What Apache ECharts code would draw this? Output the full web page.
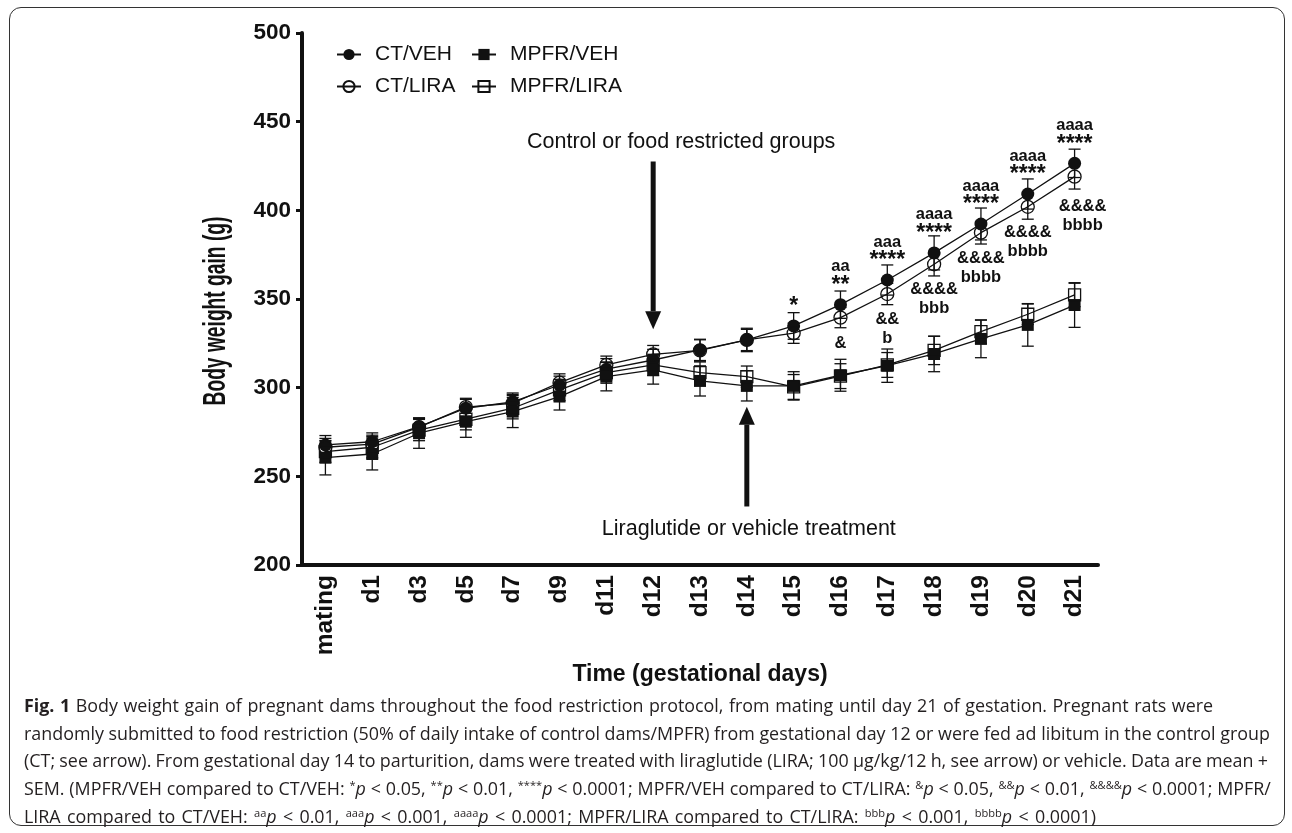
<!DOCTYPE html>
<html>
<head>
<meta charset="utf-8">
<script src="https://cdn.jsdelivr.net/npm/echarts@6/dist/echarts.min.js"></script>
<style>
  html, body { margin: 0; padding: 0; background: #fff; }
  #wrap { position: relative; width: 1292px; height: 833px; overflow: hidden; }
  #frame {
    position: absolute; left: 9px; top: 7px; width: 1274px; height: 817px;
    border: 1.5px solid #333; border-radius: 12px;
  }
  #chart { position: absolute; left: 0; top: 0; width: 1292px; height: 833px; }
  #caption {
    position: absolute; left: 24px; top: 692px; white-space: nowrap;
    font-family: 'Open Sans', 'Liberation Sans', sans-serif; font-size: 16px;
    line-height: 27.7px; color: #231f20;
  }
  #caption span { display: block; height: 27.7px; }
  #caption sup { font-size: 0.62em; vertical-align: 6px; line-height: 0; }
</style>
</head>
<body>
<div id="wrap">
  <div id="frame"></div>
  <div id="chart"></div>
  <div id="caption">
    <span class="ln"><b>Fig. 1</b> Body weight gain of pregnant dams throughout the food restriction protocol, from mating until day 21 of gestation. Pregnant rats were</span>
    <span class="ln">randomly submitted to food restriction (50% of daily intake of control dams/MPFR) from gestational day 12 or were fed ad libitum in the control group</span>
    <span class="ln">(CT; see arrow). From gestational day 14 to parturition, dams were treated with liraglutide (LIRA; 100 μg/kg/12 h, see arrow) or vehicle. Data are mean +</span>
    <span class="ln">SEM. (MPFR/VEH compared to CT/VEH: <sup>*</sup><i>p</i> &lt; 0.05, <sup>**</sup><i>p</i> &lt; 0.01, <sup>****</sup><i>p</i> &lt; 0.0001; MPFR/VEH compared to CT/LIRA: <sup>&amp;</sup><i>p</i> &lt; 0.05, <sup>&amp;&amp;</sup><i>p</i> &lt; 0.01, <sup>&amp;&amp;&amp;&amp;</sup><i>p</i> &lt; 0.0001; MPFR/</span>
    <span class="ln">LIRA compared to CT/VEH: <sup>aa</sup><i>p</i> &lt; 0.01, <sup>aaa</sup><i>p</i> &lt; 0.001, <sup>aaaa</sup><i>p</i> &lt; 0.0001; MPFR/LIRA compared to CT/LIRA: <sup>bbb</sup><i>p</i> &lt; 0.001, <sup>bbbb</sup><i>p</i> &lt; 0.0001)</span>
  </div>
</div>
<script>
const days = ['mating', 'd1', 'd3', 'd5', 'd7', 'd9', 'd11', 'd12', 'd13', 'd14', 'd15', 'd16', 'd17', 'd18', 'd19', 'd20', 'd21']

// mean body weight (g) per group
const ctVeh = [267.7, 269.5, 278.0, 288.4, 292.0, 301.5, 310.4, 315.6, 321.3, 326.9, 334.8, 346.8, 360.7, 376.0, 392.3, 409.2, 426.5]
const ctLira = [266.4, 268.2, 277.7, 289.0, 291.2, 302.8, 312.8, 318.8, 321.0, 326.9, 330.7, 339.5, 352.8, 369.6, 387.4, 402.0, 419.0]
const mpfrVeh = [260.5, 262.6, 274.3, 280.8, 286.5, 295.0, 306.2, 310.0, 303.8, 301.0, 301.0, 307.0, 312.4, 319.0, 327.5, 335.4, 346.6]
const mpfrLira = [263.9, 266.4, 276.1, 282.2, 288.4, 298.7, 308.5, 312.8, 308.5, 306.2, 300.4, 306.5, 312.8, 321.0, 331.6, 341.4, 352.3]

// SEM per group
const ctVehSem = [5.3, 5, 5, 5, 5, 5, 6, 6, 6, 6.6, 7.5, 7.7, 8.5, 9.6, 9, 8.5, 8]
const ctLiraSem = [5, 5, 5, 5, 5, 5, 5, 5, 6, 6, 5.7, 5.7, 6, 6.6, 6.4, 7, 7]
const mpfrVehSem = [9.7, 9, 8.5, 8.8, 9, 7.6, 8, 8, 8.5, 8.5, 8, 9, 9.4, 10, 10.6, 12, 12.6]
const mpfrLiraSem = [6, 6, 6, 6, 6, 6, 6, 6, 6, 6, 7, 7, 7, 8, 6.6, 5.8, 6.6]

// significance marks: above CT/VEH and below CT/LIRA
const marksAbove = ['', '', '', '', '', '', '', '', '', '', '*', 'aa\n**', 'aaa\n****', 'aaaa\n****', 'aaaa\n****', 'aaaa\n****', 'aaaa\n****']
const marksBelow = ['', '', '', '', '', '', '', '', '', '', '', '&', '&&\nb', '&&&&\nbbb', '&&&&\nbbbb', '&&&&\nbbbb', '&&&&\nbbbb']

const yTicks = [200, 250, 300, 350, 400, 450, 500]

// arrows: [category, from value, tip value, label]
const arrowTop = ['d12', 427.5, 333, 'Control or food restricted groups']
const arrowBottom = ['d14', 233, 289.3, 'Liraglutide or vehicle treatment']

// right edge of each caption line in the original
const captionEnds = [1213, 1270, 1268, 1271, 1096]

const FONT = "'Liberation Sans', Arial, sans-serif"
const INK = '#111'

const chart = echarts.init(document.getElementById('chart'))

// asterisks are drawn larger, like the original figure
const starText = (s) => s.split('\n').map((l) => (l.includes('*') ? '{s|' + l + '}' : l)).join('\n')

const withMarks = (values, marks, position) =>
  values.map((v, i) => ({
    value: v,
    label: {
      show: !!marks[i],
      formatter: starText(marks[i]),
      position,
      distance: position === 'top' ? 3 : 9,
      offset: position === 'bottom' && i === values.length - 1 ? [8, 4] : [0, 0],
      color: INK,
      fontFamily: FONT,
      fontWeight: 'bold',
      fontSize: 16.5,
      lineHeight: 19,
      rich: {
        s: { fontFamily: FONT, fontWeight: 'bold', fontSize: 23, lineHeight: 19, color: INK },
      },
    },
  }))

const errorSeries = (name, values, sems) => ({
  type: 'custom',
  name,
  silent: true,
  z: 1,
  data: values.map((v, i) => [i, v, sems[i]]),
  renderItem: (params, api) => {
    const x = api.coord([api.value(0), api.value(1)])[0]
    const top = api.coord([api.value(0), api.value(1) + api.value(2)])[1]
    const bottom = api.coord([api.value(0), api.value(1) - api.value(2)])[1]
    const cap = 6
    const style = { stroke: INK, lineWidth: 1.3 }
    return {
      type: 'group',
      children: [
        { type: 'line', shape: { x1: x, y1: top, x2: x, y2: bottom }, style },
        { type: 'line', shape: { x1: x - cap, y1: top, x2: x + cap, y2: top }, style },
        { type: 'line', shape: { x1: x - cap, y1: bottom, x2: x + cap, y2: bottom }, style },
      ],
    }
  },
})

const lineSeries = (name, data, symbol, filled) => ({
  type: 'line',
  name,
  data,
  symbol,
  symbolSize: symbol === 'circle' ? 13 : 12,
  z: 3,
  lineStyle: { color: INK, width: 1.3 },
  itemStyle: {
    color: filled ? INK : 'rgba(255,255,255,0)',
    borderColor: INK,
    borderWidth: filled ? 0 : 1.3,
  },
  emphasis: { disabled: true },
})

const legendBase = {
  orient: 'vertical',
  top: 39,
  itemWidth: 24,
  itemHeight: 14,
  itemGap: 11,
  textStyle: { fontFamily: FONT, fontSize: 21, color: INK, padding: [0, 0, 0, 9] },
}

const option = {
  animation: false,
  backgroundColor: 'rgba(0,0,0,0)',
  legend: [
    { ...legendBase, left: 331, data: ['CT/VEH', 'CT/LIRA'] },
    { ...legendBase, left: 466, data: ['MPFR/VEH', 'MPFR/LIRA'] },
  ],
  grid: { left: 302, right: 194, top: 33, bottom: 268 },
  xAxis: {
    type: 'category',
    data: days,
    boundaryGap: true,
    name: 'Time (gestational days)',
    nameLocation: 'middle',
    nameGap: 80,
    nameTextStyle: { fontFamily: FONT, fontWeight: 'bold', fontSize: 23, color: INK },
    axisLine: { lineStyle: { color: INK, width: 4 } },
    axisTick: { alignWithLabel: true, length: 7, lineStyle: { color: INK, width: 3 } },
    axisLabel: { rotate: 90, margin: 10, fontFamily: FONT, fontWeight: 'bold', fontSize: 24.5, color: INK },
    splitLine: { show: false },
  },
  yAxis: {
    type: 'value',
    min: yTicks[0],
    max: yTicks[yTicks.length - 1],
    interval: 50,
    axisLine: { show: true, lineStyle: { color: INK, width: 4 } },
    axisTick: { show: true, length: 6, lineStyle: { color: INK, width: 3 } },
    axisLabel: { margin: 11, fontFamily: FONT, fontWeight: 'bold', fontSize: 22.5, color: INK },
    splitLine: { show: false },
  },
  series: [
    errorSeries('err-ct-veh', ctVeh, ctVehSem),
    errorSeries('err-ct-lira', ctLira, ctLiraSem),
    errorSeries('err-mpfr-veh', mpfrVeh, mpfrVehSem),
    errorSeries('err-mpfr-lira', mpfrLira, mpfrLiraSem),
    lineSeries('CT/VEH', withMarks(ctVeh, marksAbove, 'top'), 'circle', true),
    lineSeries('CT/LIRA', withMarks(ctLira, marksBelow, 'bottom'), 'circle', false),
    lineSeries('MPFR/VEH', mpfrVeh, 'rect', true),
    lineSeries('MPFR/LIRA', mpfrLira, 'rect', false),
  ],
}

chart.setOption(option)

// arrows and their notes, placed through the chart's own scales
const arrowGraphics = ([cat, from, tip, text], textDy, textDx) => {
  const [x, y0] = chart.convertToPixel({ gridIndex: 0 }, [cat, from])
  const yTip = chart.convertToPixel({ gridIndex: 0 }, [cat, tip])[1]
  const dir = yTip > y0 ? 1 : -1
  const headLen = 18
  const headHalf = 8
  const yBase = yTip - dir * headLen
  return [
    { type: 'line', silent: true, shape: { x1: x, y1: y0, x2: x, y2: yBase }, style: { stroke: INK, lineWidth: 5 } },
    {
      type: 'polygon', silent: true,
      shape: { points: [[x - headHalf, yBase], [x + headHalf, yBase], [x, yTip]] },
      style: { fill: INK },
    },
    {
      type: 'text', silent: true, x: x + textDx, y: y0 + textDy,
      style: { text, fontFamily: FONT, fontSize: 21.5, fill: INK, align: 'center', verticalAlign: 'middle' },
    },
  ]
}

chart.setOption({
  graphic: [
    ...arrowGraphics(arrowTop, -19, 28),
    ...arrowGraphics(arrowBottom, 23, 2),
    {
      type: 'text', silent: true, x: 216, y: 311, rotation: Math.PI / 2, scaleX: 0.62,
      style: {
        text: 'Body weight gain (g)', fontFamily: FONT, fontWeight: 'bold', fontSize: 31,
        fill: INK, align: 'center', verticalAlign: 'middle',
      },
    },
  ],
})

// fit the caption: font size from the second line, word spacing per line
const lines = Array.from(document.querySelectorAll('#caption .ln'))
const cap = document.getElementById('caption')
const measure = (el) => {
  const r = document.createRange()
  r.selectNodeContents(el)
  return r.getBoundingClientRect().width
}
cap.style.fontSize = (16 * (captionEnds[1] - 24) / measure(lines[1])).toFixed(2) + 'px'
lines.forEach((el, i) => {
  const spaces = (el.textContent.trim().match(/ /g) || []).length
  const gap = (captionEnds[i] - 24 - measure(el)) / spaces
  el.style.wordSpacing = gap.toFixed(2) + 'px'
})
</script>
</body>
</html>
